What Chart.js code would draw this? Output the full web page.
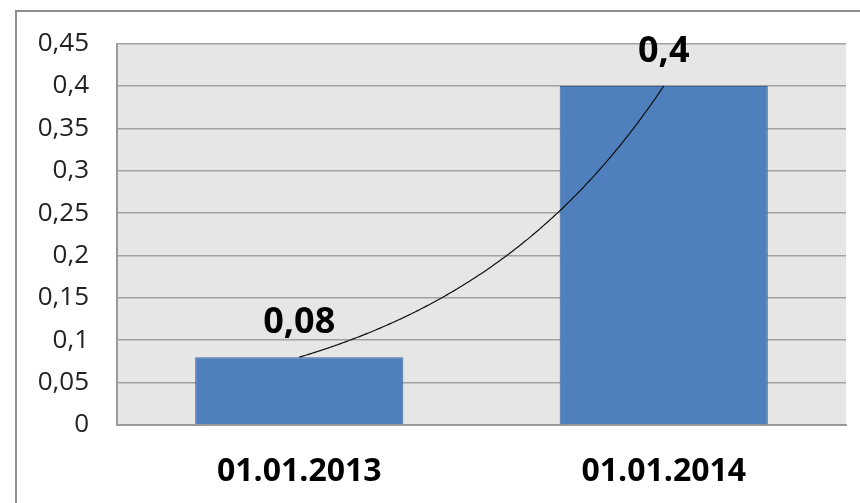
<!DOCTYPE html>
<html>
<head>
<meta charset="utf-8">
<script src="https://cdn.jsdelivr.net/npm/chart.js@4.4.1/dist/chart.umd.min.js"></script>
<style>
  html, body { margin: 0; padding: 0; background: #fff; overflow: hidden; }
  #wrap { position: relative; width: 860px; height: 503px; }
  /* outer chart frame, cut off at the right and bottom */
  #frame { position: absolute; left: 15px; top: 10px; width: 900px; height: 600px;
           border: 2px solid #8e8e8e; box-sizing: border-box; }
  #chart { position: absolute; left: 0; top: 0; }
</style>
</head>
<body>
<div id="wrap">
  <div id="frame"></div>
  <canvas id="chart" width="860" height="503"></canvas>
</div>
<script>
const categories = ['01.01.2013', '01.01.2014'];
const values = [0.08, 0.4];
const yMin = 0;
const yMax = 0.45;
const yStep = 0.05;

const fmt = v => String(+v.toFixed(2)).replace('.', ',');

// grey plot area behind the bars
const plotBackground = {
    id: 'plotBackground',
    beforeDraw(chart) {
        const { ctx, chartArea: a } = chart;
        ctx.save();
        ctx.fillStyle = '#e6e6e6';
        ctx.fillRect(a.left, a.top, a.right - a.left, a.bottom - a.top);
        ctx.restore();
    }
};

// exponential trend line fitted to the bar values, then the value labels on top
const trendAndLabels = {
    id: 'trendAndLabels',
    afterDatasetsDraw(chart) {
        const { ctx } = chart;
        const xs = chart.scales.x;
        const ys = chart.scales.y;
        const data = chart.data.datasets[0].data;
        const n = data.length;

        // least squares on ln(y): y = a * e^(b * x), x = 1..n
        let sx = 0, sy = 0, sxx = 0, sxy = 0;
        data.forEach((v, i) => {
            const x = i + 1, ly = Math.log(v);
            sx += x; sy += ly; sxx += x * x; sxy += x * ly;
        });
        const b = (n * sxy - sx * sy) / (n * sxx - sx * sx);
        const a = Math.exp((sy - b * sx) / n);

        const p0 = xs.getPixelForValue(0);
        const p1 = xs.getPixelForValue(1);
        ctx.save();
        ctx.strokeStyle = '#111';
        ctx.lineWidth = 1.2;
        ctx.beginPath();
        const steps = 200;
        for (let s = 0; s <= steps; s++) {
            const x = 1 + (n - 1) * s / steps;
            const px = p0 + (x - 1) * (p1 - p0);
            const py = ys.getPixelForValue(a * Math.exp(b * x));
            if (s === 0) ctx.moveTo(px, py); else ctx.lineTo(px, py);
        }
        ctx.stroke();

        ctx.fillStyle = '#000';
        ctx.font = 'bold 36px "Open Sans"';
        ctx.textAlign = 'center';
        ctx.textBaseline = 'alphabetic';
        chart.getDatasetMeta(0).data.forEach((bar, i) => {
            ctx.fillText(fmt(data[i]), bar.x, bar.y - 24);
        });
        ctx.restore();
    }
};

new Chart(document.getElementById('chart'), {
    type: 'bar',
    data: {
        labels: categories,
        datasets: [{
            data: values,
            backgroundColor: '#4f7fbd',
            borderColor: '#3b669e',
            borderWidth: 1,
            categoryPercentage: 1,
            barPercentage: 0.571
        }]
    },
    options: {
        responsive: false,
        animation: false,
        layout: { padding: { top: 43, right: 14, left: 0, bottom: 0 } },
        plugins: {
            legend: { display: false },
            tooltip: { enabled: false }
        },
        scales: {
            x: {
                grid: { display: false, drawTicks: false },
                border: { color: '#9a9a9a', width: 2 },
                ticks: {
                    color: '#000',
                    padding: 28,
                    font: { family: '"Open Sans"', size: 32, weight: 'bold' }
                },
                afterFit(scale) { scale.height = 78; }
            },
            y: {
                min: yMin,
                max: yMax,
                grid: { color: '#a2a2a2', lineWidth: 1.6, drawTicks: false },
                border: { color: '#9a9a9a', width: 2 },
                ticks: {
                    stepSize: yStep,
                    color: '#222',
                    padding: 28,
                    font: { family: '"Open Sans"', size: 26 },
                    callback: v => fmt(v)
                },
                afterFit(scale) { scale.width = 117; }
            }
        }
    },
    plugins: [plotBackground, trendAndLabels]
});
</script>
</body>
</html>
